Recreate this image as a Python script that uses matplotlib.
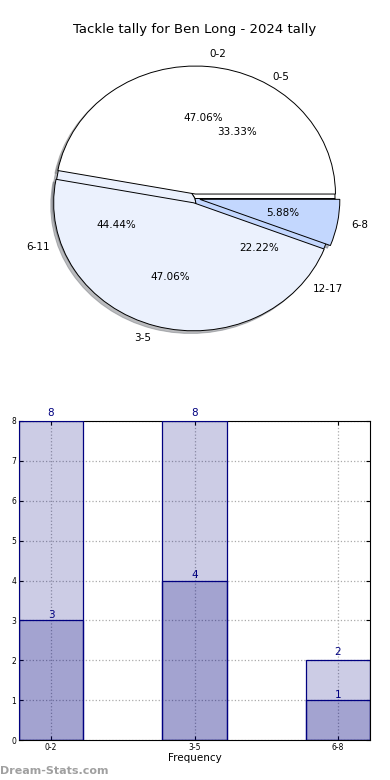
import numpy as np
import matplotlib
matplotlib.use('Agg')
import matplotlib.pyplot as plt

# Pie data (outer ranges and finer ranges)
pie_labels = ['0-2', '3-5', '6-8']
pie_values = [8, 8, 1]
pie2_labels = ['0-5', '6-11', '12-17']
pie2_values = [3, 4, 2]
pie_colors = ['#ffffff', '#ebf1fd', '#c3d7fe']

# Bar data
categories = ['0-2', '3-5', '6-8']
totals = [8, 8, 2]
highs = [3, 4, 1]

title = 'Tackle tally for Ben Long - 2024 tally'

fig = plt.figure(figsize=(3.9, 7.8), dpi=100)

# Pie chart
rx, ry = 140, 128
cx, cy = 195, 198.5
ax1 = fig.add_axes([(cx - rx) / 390, 1 - (cy + ry) / 780, 2 * rx / 390, 2 * ry / 780])
shadow = {'ox': -0.015, 'oy': -0.015, 'shade': 0.5}
ax1.pie(pie2_values, labels=pie2_labels, colors=pie_colors, autopct='%.2f%%',
        shadow=shadow, wedgeprops={'linewidth': 0.7, 'edgecolor': 'black'},
        textprops={'fontsize': 7.5})
ax1.pie(pie_values, labels=pie_labels, colors=pie_colors, autopct='%.2f%%',
        explode=[0.035, 0.035, 0.035], shadow=shadow,
        wedgeprops={'linewidth': 0.7, 'edgecolor': 'black'},
        textprops={'fontsize': 7.5})
ax1.set_aspect('auto')
ax1.set_xlim(-1, 1)
ax1.set_ylim(-1, 1)
fig.text(0.5, 1 - 30 / 780, title, ha='center', va='center', fontsize=9.5)

# Bar chart
ax2 = fig.add_axes([19 / 390, 1 - 740 / 780, 351 / 390, 319 / 780])
x = np.arange(len(categories))
w = 0.446
ax2.bar(x, totals, width=w, color='navy', alpha=0.2, edgecolor='none', zorder=2)
ax2.bar(x, highs, width=w, color='navy', alpha=0.2, edgecolor='none', zorder=2)
ax2.bar(x, totals, width=w, fill=False, edgecolor='navy', linewidth=0.9, zorder=3)
ax2.bar(x, highs, width=w, fill=False, edgecolor='navy', linewidth=0.9, zorder=3)
for i in range(len(categories)):
    ax2.text(x[i], totals[i] + 0.07, str(totals[i]), ha='center', va='bottom',
             color='navy', fontsize=7.5, zorder=4)
    ax2.text(x[i], highs[i] + 0.0, str(highs[i]), ha='center', va='bottom',
             color='navy', fontsize=7.5, zorder=4)
ax2.set_xlim(-w / 2, len(categories) - 1 + w / 2)
ax2.set_ylim(0, 8)
ax2.set_yticks(range(0, 9))
ax2.set_xticks(x)
ax2.set_xticklabels(categories)
ax2.tick_params(labelsize=5.5, direction='in', length=3, right=True, top=True, pad=2)
ax2.grid(True, linestyle=':', color='#aaaaaa', linewidth=0.9, zorder=1)
ax2.set_axisbelow(True)
ax2.set_xlabel('Frequency', fontsize=7.5, labelpad=1)

fig.text(0.0, 1 - 771 / 780, 'Dream-Stats.com', ha='left', va='center',
         fontsize=8, color='#a0a0a0', fontweight='bold')

fig.savefig('out.png', dpi=100)
